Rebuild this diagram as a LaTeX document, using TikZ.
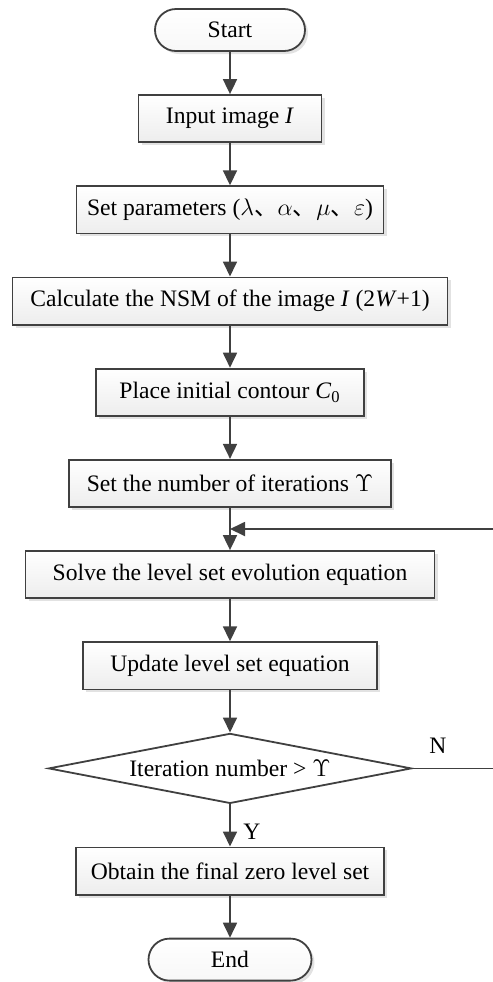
\documentclass[tikz,border=0pt]{standalone}
\usepackage{fontspec}
\setmainfont{Liberation Serif}
\newfontfamily\cjk{Noto Sans CJK SC}
\usepackage{tikz}
\usetikzlibrary{arrows.meta,positioning,calc,shapes.geometric,shadows}

\begin{document}
\begin{tikzpicture}[node distance=21.1pt, font=\fontsize{11.8}{13}\selectfont,
	box/.style={draw=black!75, line width=0.9pt, top color=white, bottom color=gray!14, drop shadow={shadow xshift=1.5pt, shadow yshift=-1.5pt, fill=gray!45}, minimum height=23.6pt, inner sep=2pt},
	term/.style={box, rounded corners=10.5pt, minimum height=21pt, bottom color=gray!6},
	dec/.style={draw=black!75, line width=0.9pt, fill=white, diamond, aspect=5.2, minimum width=181.5pt, minimum height=35pt, inner sep=0pt},
	arr/.style={-{Triangle[length=7.5pt,width=7pt]}, line width=0.9pt, draw=black!75}]
	\useasboundingbox (0,0) rectangle (246.5pt,-491pt);
	\node[term, minimum width=75pt] (start) at (115pt,-15pt) {Start};
	\node[box, minimum width=91.5pt, below=of start] (input) {Input image \textit{I}};
	\node[box, minimum width=153.5pt, below=of input] (params) {Set parameters ($\lambda${\cjk 、}$\alpha${\cjk 、}$\mu${\cjk 、}$\varepsilon$)};
	\node[box, minimum width=217.5pt, below=of params] (nsm) {Calculate the NSM of the image \textit{I} (2\textit{W}+1)};
	\node[box, minimum width=134pt, below=of nsm] (place) {Place initial contour \textit{C}\textsubscript{0}};
	\node[box, minimum width=161pt, below=of place] (iter) {Set the number of iterations $\Upsilon$};
	\node[box, minimum width=204.5pt, below=of iter] (solve) {Solve the level set evolution equation};
	\node[box, minimum width=147pt, below=of solve] (update) {Update level set equation};
	\node[dec, below=of update] (check) {Iteration number > $\Upsilon$};
	\node[box, minimum width=154pt, below=of check] (final) {Obtain the final zero level set};
	\node[term, minimum width=81.5pt, below=of final] (end) {End};
	% labels of the decision
	\node (no) at ($(check.east)+(12.75pt,11.5pt)$) {N};
	\node (yes) at ($(check.south)+(11pt,-13.5pt)$) {Y};
	% main flow
	\foreach \a/\b in {start/input, input/params, params/nsm, nsm/place, place/iter, iter/solve, solve/update, update/check, check/final, final/end}
		\draw[arr] (\a) -- (\b);
	% loop back
	\coordinate (back) at ($(iter.south)!0.5!(solve.north)$);
	\coordinate (rt) at ($(check.east)+(50pt,0)$);
	\draw[arr] (check.east) -- (rt) |- (back);
\end{tikzpicture}
\end{document}
